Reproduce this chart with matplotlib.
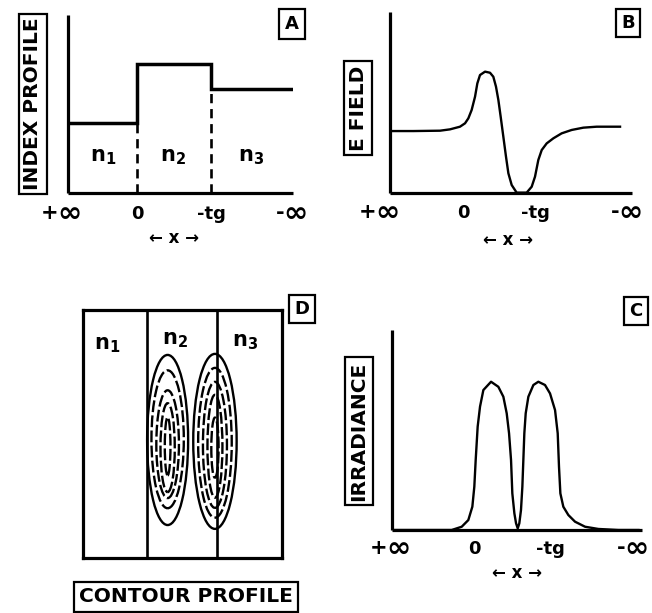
import matplotlib
matplotlib.use('Agg')
import matplotlib.pyplot as plt
from matplotlib.patches import Ellipse

W, H = 652, 613

# ---------------- data ----------------
tick_labels = ['+\u221e', '0', '-tg', '-\u221e']
x_label = '\u2190 x \u2192'

# Panel A : index profile (x in units of guide thickness tg, 0 and 1 = interfaces)
interfaces = [0.0, 1.0]
index_values = [1.00, 1.84, 1.49]          # n1, n2, n3
region_names = ['n_1', 'n_2', 'n_3']

# Panel B : E field
efield_x = [-0.991, -0.690, -0.319, -0.181, -0.042, 0.028, 0.074, 0.120, 0.167,
            0.199, 0.236, 0.306, 0.375, 0.421, 0.458, 0.491, 0.523, 0.560,
            0.597, 0.630, 0.676, 0.745, 0.884, 0.954, 1.000, 1.046, 1.093,
            1.162, 1.255, 1.370, 1.509, 1.671, 1.856, 2.181]
efield_y = [0.512, 0.512, 0.515, 0.526, 0.548, 0.576, 0.617, 0.686, 0.796,
            0.906, 0.975, 1.003, 0.994, 0.961, 0.879, 0.769, 0.631, 0.466,
            0.300, 0.163, 0.066, 0.003, 0.003, 0.052, 0.135, 0.273, 0.355,
            0.410, 0.452, 0.493, 0.521, 0.540, 0.548, 0.548]

# Panel C : irradiance
irr_x = [-1.083, -0.294, -0.162, -0.075, -0.022, 0.004, 0.022, 0.048, 0.079,
         0.123, 0.224, 0.320, 0.386, 0.430, 0.461, 0.487, 0.504, 0.531, 0.553,
         0.575, 0.596, 0.618, 0.636, 0.649, 0.662, 0.680, 0.715, 0.781, 0.846,
         0.934, 1.000, 1.066, 1.101, 1.118, 1.136, 1.175, 1.241, 1.329, 1.461,
         1.636, 1.899, 2.163]
irr_y = [0.0, 0.0, 0.022, 0.067, 0.157, 0.292, 0.472, 0.697, 0.832,
         0.944, 1.000, 0.966, 0.899, 0.787, 0.652, 0.472, 0.247, 0.112, 0.045,
         0.011, 0.045, 0.135, 0.292, 0.472, 0.652, 0.787, 0.899, 0.978, 1.000,
         0.978, 0.921, 0.809, 0.652, 0.427, 0.247, 0.157, 0.101, 0.056, 0.022,
         0.007, 0.0, 0.0]

# Panel D : contour profile (ellipse contours of the two lobes)
lobe_x = [0.295, 0.971]
left_cy = [0.0, 0.01, -0.06, -0.11, -0.09]
left_w = [0.586, 0.462, 0.323, 0.204, 0.081]
left_h = [2.43, 1.97, 1.54, 1.27, 0.83]
right_cy = [-0.02, -0.04, -0.07, -0.09, -0.11]
right_w = [0.620, 0.480, 0.343, 0.214, 0.104]
right_h = [2.50, 2.14, 1.80, 1.47, 0.86]

# ---------------- figure ----------------
fig = plt.figure(figsize=(W / 100, H / 100), dpi=100)
fig.patch.set_facecolor('white')
FONT = dict(family='DejaVu Sans', weight='bold')
AX_LW = 2.3
LINE_LW = 1.7
INF = '\u221e'


def px_axes(x0, y0, x1, y1):
    return fig.add_axes([x0 / W, 1 - y1 / H, (x1 - x0) / W, (y1 - y0) / H])


def style_axes(ax):
    for s in ['top', 'right']:
        ax.spines[s].set_visible(False)
    for s in ['left', 'bottom']:
        ax.spines[s].set_linewidth(AX_LW)
        ax.spines[s].set_capstyle('butt')
    ax.set_xticks([])
    ax.set_yticks([])
    ax.patch.set_alpha(0)


def put(ax, x, dx_px, dy_px, s, size, ha):
    ax.annotate(s, xy=(x, 0), xycoords=('data', 'axes fraction'),
                xytext=(dx_px * 0.72, -dy_px * 0.72), textcoords='offset points',
                ha=ha, va='baseline', fontsize=size, annotation_clip=False, **FONT)


def tick_text(ax, positions, dy_px, xl_pos, xl_dy):
    base = dy_px + 7   # baseline below the axis, in px
    for p, lab in zip(positions, tick_labels):
        if INF in lab:
            sign = lab.replace(INF, '')
            put(ax, p, -6, base, sign, 15, 'right')
            put(ax, p, -7, base + 3, INF, 21, 'left')
        else:
            put(ax, p, 0, base, lab, 13, 'center')
    ax.annotate(x_label, xy=(xl_pos, 0), xycoords=('data', 'axes fraction'),
                xytext=(0, -xl_dy * 0.72), textcoords='offset points',
                ha='center', va='center', fontsize=12, annotation_clip=False, **FONT)


def boxed(x, y, text, size=13, rot=0, pad=0.25):
    fig.text(x / W, 1 - y / H, text, ha='center', va='center', rotation=rot,
             fontsize=size, bbox=dict(boxstyle=f'square,pad={pad}', fc='white',
                                      ec='black', lw=1.6), **FONT)


# ----- Panel A -----
axA = px_axes(68, 15, 293, 193)
style_axes(axA)
axA.set_xlim(-0.932, 2.108)
axA.set_ylim(0, 2.543)
edges = [-0.932] + interfaces + [2.108]
axA.stairs(index_values, edges, baseline=None, color='black', lw=2.5)
axA.vlines(interfaces, 0, [index_values[0], index_values[2]], colors='black',
           linestyles=(0, (3.5, 2.2)), lw=1.9)
for xc, name in zip([-0.46, 0.49, 1.54], region_names):
    axA.text(xc, 0.51, rf'$\mathbf{{{name}}}$', ha='center', va='center', fontsize=15)
tick_text(axA, [-0.986, 0, 1.0, 2.07], 19, 0.5, 45)
boxed(33, 104, 'INDEX PROFILE', size=14.5, rot=90, pad=0.2)
boxed(292, 24, 'A', size=13, pad=0.35)

# ----- Panel B -----
axB = px_axes(390, 12, 632, 193)
style_axes(axB)
axB.set_xlim(-1.014, 2.347)
axB.set_ylim(0, 1.496)
axB.plot(efield_x, efield_y, color='black', lw=LINE_LW)
tick_text(axB, [-1.125, 0, 1.0, 2.26], 18, 0.625, 47)
boxed(358, 108, 'E FIELD', size=14.5, rot=90, pad=0.2)
boxed(628, 23, 'B', size=13, pad=0.3)

# ----- Panel C -----
axC = px_axes(392, 330, 642, 530)
style_axes(axC)
axC.set_xlim(-1.079, 2.21)
axC.set_ylim(0, 1.349)
axC.plot(irr_x, irr_y, color='black', lw=LINE_LW)
tick_text(axC, [-1.066, 0, 1.0, 2.075], 17, 0.566, 43)
boxed(359, 431, 'IRRADIANCE', size=14.5, rot=90, pad=0.2)
boxed(636, 311, 'C', size=13, pad=0.3)

# ----- Panel D -----
axD = px_axes(83, 310, 282, 558)
axD.set_xlim(-0.914, 1.929)
axD.set_ylim(-1.686, 1.857)
axD.set_xticks([])
axD.set_yticks([])
for s in axD.spines.values():
    s.set_linewidth(AX_LW)
axD.axvline(interfaces[0], color='black', lw=1.9)
axD.axvline(interfaces[1], color='black', lw=1.9)
for cx, cys, ws, hs in [(lobe_x[0], left_cy, left_w, left_h),
                        (lobe_x[1], right_cy, right_w, right_h)]:
    for i, (cy, w, h) in enumerate(zip(cys, ws, hs)):
        ls = '-' if i == 0 else (0, (5, 1.4))
        axD.add_patch(Ellipse((cx, cy), w, h, fill=False, ec='black', lw=1.7, ls=ls))
for xc, yc, name in zip([-0.57, 0.40, 1.40], [1.36, 1.43, 1.40], region_names):
    axD.text(xc, yc, rf'$\mathbf{{{name}}}$', ha='center', va='center', fontsize=15)
boxed(302, 309, 'D', size=13, pad=0.3)
boxed(186, 597, 'CONTOUR PROFILE', size=14.5, pad=0.25)

fig.savefig('out.png', dpi=100, facecolor='white')
